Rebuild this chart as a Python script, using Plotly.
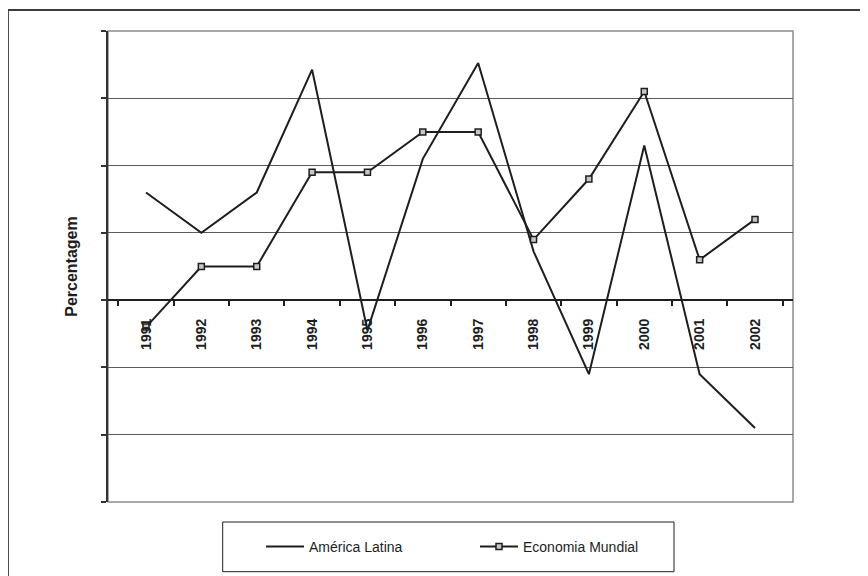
import plotly.graph_objects as go

anos = ['1991', '1992', '1993', '1994', '1995', '1996', '1997', '1998', '1999', '2000', '2001', '2002']
america_latina = [3.2, 2.0, 3.2, 6.85, -0.9, 4.2, 7.05, 1.45, -2.2, 4.6, -2.2, -3.8]
economia_mundial = [-0.8, 1.0, 1.0, 3.8, 3.8, 5.0, 5.0, 1.8, 3.6, 6.2, 1.2, 2.4]

W, H = 868, 576
OX, OY = 8, 8  # page offset of the figure in the browser
# target plot area in page pixels: x 108..793, y 31..502
L, T = 108 - OX, 31 - OY
R, B = W - (793 - OX), H - (502 - OY)
pw, ph = W - L - R, H - T - B

def px(x):
    return (x - OX - L) / pw

def py(y):
    return (H - B - (y - OY)) / ph

FONT = "Liberation Sans, Arial, sans-serif"

fig = go.Figure()
fig.add_trace(go.Scatter(
    x=anos, y=america_latina, name="América Latina", mode="lines",
    line=dict(color="#1e1e1e", width=2), legend="legend"))
fig.add_trace(go.Scatter(
    x=anos, y=economia_mundial, name="Economia Mundial", mode="lines+markers",
    line=dict(color="#1e1e1e", width=2),
    marker=dict(symbol="square", size=6, color="#c4c8cc", line=dict(color="#1e1e1e", width=1.5)),
    legend="legend2"))

fig.update_layout(
    width=W, height=H,
    margin=dict(l=L, r=R, t=T, b=B),
    paper_bgcolor="white", plot_bgcolor="white",
    font=dict(family=FONT, color="#1e1e1e"),
    xaxis=dict(
        type="category", anchor="free", position=6 / 14,
        showline=True, linecolor="#1e1e1e", linewidth=2,
        ticks="outside", tickson="boundaries", ticklen=5, tickwidth=1.5, tickcolor="#1e1e1e",
        tickangle=-90, ticklabelstandoff=12,
        tickfont=dict(family=FONT, size=14, weight="bold", color="#1e1e1e"),
        showgrid=False, zeroline=False,
    ),
    yaxis=dict(
        range=[-6, 8], dtick=2, tick0=0,
        showticklabels=False,
        ticks="outside", ticklen=5, tickwidth=1.5, tickcolor="#333333",
        showline=True, linecolor="#333333", linewidth=1.5,
        showgrid=True, gridcolor="#5a5a5a", gridwidth=1.2,
        zeroline=False,
        title=dict(text="Percentagem", standoff=20,
                   font=dict(family=FONT, size=16, weight="bold", color="#1e1e1e")),
    ),
    legend=dict(x=px(261), y=py(547), xanchor="left", yanchor="middle",
                orientation="h", bgcolor="rgba(0,0,0,0)", borderwidth=0, itemwidth=38,
                font=dict(family=FONT, size=14, color="#1e1e1e")),
    legend2=dict(x=px(475), y=py(547), xanchor="left", yanchor="middle",
                 orientation="h", bgcolor="rgba(0,0,0,0)", borderwidth=0, itemwidth=38,
                 font=dict(family=FONT, size=14, color="#1e1e1e")),
    showlegend=True,
    shapes=[
        # plot area frame
        dict(type="rect", xref="paper", yref="paper", x0=0, x1=1, y0=0, y1=1,
             line=dict(color="#8c8c8c", width=1.5), layer="below"),
        # outer frame
        dict(type="rect", xref="paper", yref="paper", x0=px(8), x1=px(900), y0=py(600), y1=py(10),
             line=dict(color="#3c3c3c", width=1.8)),
        # legend box
        dict(type="rect", xref="paper", yref="paper", x0=px(222.7), x1=px(674), y0=py(571.7), y1=py(522),
             line=dict(color="#1e1e1e", width=1)),
    ],
)

fig.write_html("out.html")
